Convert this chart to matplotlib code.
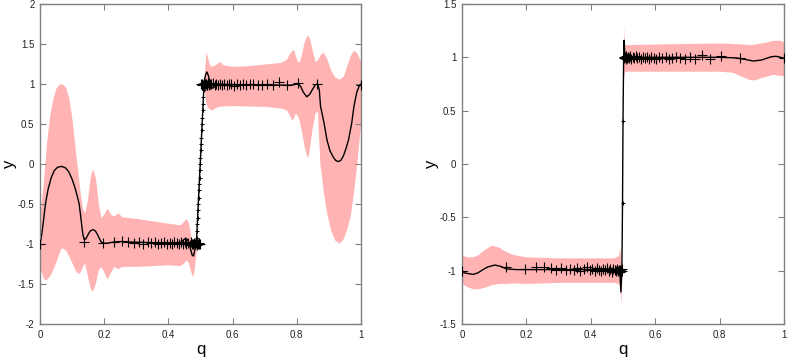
import numpy as np
import matplotlib
matplotlib.use("Agg")
import matplotlib.pyplot as plt

plt.rcParams['font.family'] = ['Liberation Sans', 'DejaVu Sans']
plt.rcParams['axes.unicode_minus'] = False

# ---------------- shared training data ----------------
data_q = [0.000, 0.138, 0.195, 0.230, 0.255, 0.275, 0.292, 0.308, 0.322, 0.335,
          0.347, 0.358, 0.368, 0.378, 0.387, 0.396, 0.404, 0.412, 0.419, 0.426,
          0.433, 0.439, 0.445, 0.451, 0.456, 0.461, 0.466, 0.470, 0.474, 0.478,
          0.481, 0.484, 0.487, 0.490, 0.492, 0.494, 0.496, 0.498,
          0.502, 0.504, 0.506, 0.508, 0.510, 0.513, 0.516, 0.519, 0.522, 0.526,
          0.530, 0.534, 0.539, 0.544, 0.549, 0.555, 0.561, 0.567, 0.574, 0.581,
          0.588, 0.596, 0.604, 0.613, 0.622, 0.632, 0.642, 0.653, 0.665, 0.678,
          0.692, 0.708, 0.725, 0.745, 0.770, 0.805, 0.862, 1.000]
data_y = [-1.000, -0.970, -0.985, -0.970, -0.965, -0.975, -0.990, -0.975, -0.995, -0.980,
          -0.990, -0.975, -1.000, -0.985, -0.970, -0.995, -0.985, -1.000, -0.975, -0.990,
          -1.005, -0.980, -0.995, -0.975, -1.000, -0.985, -1.010, -0.980, -0.995, -1.005,
          -0.985, -1.000, -0.990, -1.010, -0.995, -1.000, -0.985, -1.000,
          1.000, 0.990, 1.005, 0.985, 1.010, 0.995, 1.000, 0.990, 1.010, 0.985,
          1.000, 0.995, 1.010, 0.990, 1.000, 0.985, 1.005, 0.990, 1.000, 0.985,
          1.005, 0.995, 0.980, 1.000, 0.990, 1.005, 0.985, 0.995, 1.000, 0.990,
          0.985, 1.005, 0.985, 1.020, 0.985, 1.010, 0.995, 0.990]

# ---------------- left panel: GP mean ----------------
left_mean_q = [0.000, 0.004, 0.008, 0.012, 0.017, 0.025, 0.035, 0.045, 0.055, 0.068,
               0.080, 0.090, 0.100, 0.110, 0.116, 0.122, 0.127, 0.131, 0.134, 0.138,
               0.143, 0.150, 0.156, 0.162, 0.167, 0.173, 0.180, 0.186, 0.191, 0.196,
               0.210, 0.230, 0.255, 0.280, 0.320, 0.360, 0.400, 0.430, 0.440, 0.448,
               0.455, 0.462, 0.468, 0.474, 0.478, 0.482, 0.486]
left_mean_y = [-1.00, -0.92, -0.80, -0.67, -0.50, -0.32, -0.17, -0.08, -0.04, -0.03,
               -0.05, -0.10, -0.19, -0.31, -0.40, -0.50, -0.66, -0.80, -0.89, -0.945,
               -0.935, -0.88, -0.84, -0.825, -0.823, -0.84, -0.89, -0.94, -0.975, -0.99,
               -0.99, -0.975, -0.97, -0.975, -0.98, -0.985, -0.99, -0.99, -0.975, -0.945,
               -0.93, -0.96, -1.05, -1.14, -1.15, -1.08, -1.02]
# steep ramp (grid points of the prediction, visible as dots)
left_ramp_q = [0.487, 0.488, 0.489, 0.490, 0.491, 0.492, 0.493, 0.494, 0.495, 0.496,
               0.497, 0.498, 0.499, 0.500, 0.501, 0.502, 0.503, 0.504, 0.505, 0.506,
               0.507, 0.508, 0.509, 0.510, 0.511]
left_ramp_y = [-1.00, -0.92, -0.84, -0.75, -0.67, -0.58, -0.50, -0.42, -0.33, -0.25,
               -0.17, -0.08, 0.00, 0.08, 0.17, 0.25, 0.33, 0.42, 0.50, 0.58,
               0.67, 0.75, 0.84, 0.92, 1.00]
left_mean2_q = [0.513, 0.516, 0.520, 0.525, 0.530, 0.536, 0.542, 0.550, 0.600, 0.700,
                0.780, 0.805, 0.812, 0.820, 0.831, 0.840, 0.850, 0.858, 0.865, 0.870,
                0.874, 0.885, 0.894, 0.903, 0.913, 0.921, 0.929, 0.937, 0.945, 0.953,
                0.961, 0.971, 0.978, 0.987, 0.995, 1.000]
left_mean2_y = [1.06, 1.12, 1.15, 1.10, 1.00, 0.95, 0.96, 1.00, 0.99, 0.99,
                0.985, 1.00, 0.97, 0.90, 0.84, 0.87, 0.94, 0.99, 1.00, 0.93,
                0.72, 0.51, 0.30, 0.17, 0.09, 0.045, 0.03, 0.045, 0.10, 0.19,
                0.30, 0.51, 0.72, 0.90, 0.98, 1.00]

# ---------------- left panel: confidence band ----------------
left_band_q = [0.000, 0.010, 0.015, 0.020, 0.030, 0.040, 0.050, 0.060, 0.066, 0.070,
               0.080, 0.090, 0.100, 0.110, 0.118, 0.125, 0.132, 0.139, 0.148, 0.155,
               0.160, 0.165, 0.173, 0.182, 0.190, 0.200, 0.209, 0.220, 0.230, 0.243,
               0.255, 0.300, 0.350, 0.400, 0.436, 0.447, 0.455, 0.462, 0.470, 0.476,
               0.481, 0.486, 0.489, 0.511, 0.514, 0.517, 0.522, 0.528, 0.535, 0.545,
               0.555, 0.560, 0.570, 0.600, 0.650, 0.700, 0.750, 0.768, 0.776, 0.784,
               0.790, 0.795, 0.800, 0.805, 0.810, 0.815, 0.823, 0.831, 0.835, 0.840,
               0.848, 0.857, 0.864, 0.872, 0.882, 0.893, 0.905, 0.918, 0.932, 0.945,
               0.955, 0.966, 0.976, 0.987, 0.995, 1.000]
left_upper = [-0.62, -0.25, 0.00, 0.25, 0.60, 0.82, 0.95, 1.00, 1.00, 1.00,
              0.96, 0.82, 0.55, 0.18, -0.10, -0.35, -0.55, -0.61, -0.45, -0.20,
              -0.10, -0.07, -0.18, -0.50, -0.67, -0.62, -0.55, -0.63, -0.65, -0.61,
              -0.66, -0.68, -0.71, -0.74, -0.76, -0.72, -0.68, -0.73, -0.90, -0.95,
              -0.95, -0.96, -0.97, 1.03, 1.25, 1.40, 1.33, 1.24, 1.22, 1.24,
              1.27, 1.28, 1.24, 1.22, 1.23, 1.25, 1.27, 1.31, 1.37, 1.42,
              1.43, 1.36, 1.30, 1.27, 1.30, 1.38, 1.53, 1.60, 1.61, 1.57,
              1.42, 1.28, 1.30, 1.36, 1.40, 1.32, 1.18, 1.09, 1.06, 1.10,
              1.22, 1.35, 1.42, 1.39, 1.32, 1.27]
left_lower = [-1.30, -1.42, -1.45, -1.44, -1.40, -1.32, -1.22, -1.10, -1.05, -1.05,
              -1.08, -1.15, -1.24, -1.33, -1.37, -1.35, -1.28, -1.24, -1.40, -1.53,
              -1.58, -1.58, -1.48, -1.32, -1.28, -1.36, -1.44, -1.35, -1.28, -1.31,
              -1.28, -1.28, -1.27, -1.26, -1.27, -1.24, -1.20, -1.23, -1.35, -1.41,
              -1.30, -1.10, -1.03, 0.97, 0.85, 0.76, 0.71, 0.69, 0.675, 0.70,
              0.72, 0.72, 0.725, 0.73, 0.725, 0.72, 0.70, 0.675, 0.62, 0.55,
              0.58, 0.63, 0.62, 0.58, 0.50, 0.40, 0.22, 0.09, 0.10, 0.22,
              0.45, 0.64, 0.66, 0.01, -0.33, -0.61, -0.82, -0.95, -0.99, -0.93,
              -0.82, -0.66, -0.38, 0.01, 0.35, 0.55]

# ---------------- right panel ----------------
right_mean_q = [0.000, 0.015, 0.035, 0.050, 0.065, 0.080, 0.1025, 0.120, 0.139, 0.170,
                0.200, 0.300, 0.400, 0.480, 0.490, 0.4935, 0.4965, 0.4985, 0.5000, 0.5020,
                0.5035, 0.5060, 0.520, 0.600, 0.700, 0.750, 0.800, 0.850, 0.880, 0.905,
                0.930, 0.960, 0.975, 0.990, 1.000]
right_mean_y = [-1.015, -1.025, -1.035, -1.02, -0.99, -0.965, -0.947, -0.96, -0.984, -0.99,
                -0.99, -0.99, -0.99, -0.99, -1.00, -1.20, -1.00, -0.37, 0.40, 1.00,
                1.16, 1.00, 1.00, 1.00, 1.00, 1.00, 1.00, 0.995, 0.98, 0.965,
                0.975, 1.005, 1.01, 1.00, 0.99]
right_ramp_q = [0.4985, 0.5000]
right_ramp_y = [-0.37, 0.40]

right_band_q = [0.000, 0.015, 0.035, 0.050, 0.070, 0.092, 0.115, 0.135, 0.160, 0.200,
                0.300, 0.400, 0.470, 0.486, 0.490, 0.4935, 0.4965, 0.4985, 0.5000, 0.5015,
                0.5030, 0.5050, 0.520, 0.600, 0.700, 0.800, 0.840, 0.870, 0.894, 0.910,
                0.940, 0.965, 0.988, 1.000]
right_upper = [-0.855, -0.87, -0.87, -0.85, -0.80, -0.76, -0.78, -0.82, -0.85, -0.87,
               -0.88, -0.88, -0.88, -0.86, -0.78, -0.95, -0.94, -0.33, 0.45, 1.10,
               1.29, 1.12, 1.12, 1.125, 1.13, 1.135, 1.13, 1.125, 1.12, 1.125,
               1.14, 1.16, 1.16, 1.14]
right_lower = [-1.12, -1.15, -1.17, -1.17, -1.155, -1.13, -1.12, -1.12, -1.115, -1.12,
               -1.11, -1.11, -1.11, -1.12, -1.16, -1.31, -1.06, -0.41, 0.35, 0.80,
               0.84, 0.87, 0.87, 0.87, 0.87, 0.87, 0.86, 0.82, 0.79, 0.79,
               0.82, 0.84, 0.83, 0.83]

# ---------------- ticks ----------------
x_ticks = [0, 0.2, 0.4, 0.6, 0.8, 1.0]
x_ticklabels = ["0", "0.2", "0.4", "0.6", "0.8", "1"]
left_yticks = [-2, -1.5, -1, -0.5, 0, 0.5, 1, 1.5, 2]
left_yticklabels = ["-2", "-1.5", "-1", "-0.5", "0", "0.5", "1", "1.5", "2"]
right_yticks = [-1.5, -1, -0.5, 0, 0.5, 1, 1.5]
right_yticklabels = ["-1.5", "-1", "-0.5", "0", "0.5", "1", "1.5"]

BAND = '#ffb3b3'
FRAME = '#808080'

fig = plt.figure(figsize=(7.89, 3.62), dpi=100)
axL = fig.add_axes([40/789, 38/362, 321/789, 320/362])
axR = fig.add_axes([462/789, 38/362, 322/789, 320/362])


def style(ax, yticks, ylabels, ylim):
    ax.set_xlim(0, 1)
    ax.set_ylim(*ylim)
    ax.set_xticks(x_ticks)
    ax.set_xticklabels(x_ticklabels)
    ax.set_yticks(yticks)
    ax.set_yticklabels(ylabels)
    ax.tick_params(direction='in', top=True, right=True, length=4.5, width=0.8,
                   color=FRAME, labelsize=7, labelcolor='#222222', pad=4)
    for s in ax.spines.values():
        s.set_color(FRAME)
        s.set_linewidth(1.0)
    ax.set_xlabel('q', fontsize=12, va='center')
    ax.xaxis.set_label_coords(0.5, -0.08)
    ax.set_ylabel('y', fontsize=12, va='center')
    ax.yaxis.set_label_coords(-0.095, 0.5)


# left
axL.fill_between(left_band_q, left_lower, left_upper, color=BAND, lw=0, zorder=1)
lq = left_mean_q + left_ramp_q + left_mean2_q
ly = left_mean_y + left_ramp_y + left_mean2_y
axL.plot(lq, ly, color='black', lw=1.0, zorder=2)
axL.plot(left_ramp_q, left_ramp_y, ls='none', marker='+', ms=2.5, mew=0.7,
         color='black', zorder=3)
axL.plot(data_q, data_y, ls='none', marker='+', ms=7, mew=0.8, color='black', zorder=3)
style(axL, left_yticks, left_yticklabels, (-2, 2))

# right
axR.fill_between(right_band_q, right_lower, right_upper, color=BAND, lw=0, zorder=1)
axR.plot(right_mean_q, right_mean_y, color='black', lw=1.0, zorder=2)
axR.plot(right_ramp_q, right_ramp_y, ls='none', marker='+', ms=2.5, mew=0.7,
         color='black', zorder=3)
axR.plot(data_q, data_y, ls='none', marker='+', ms=7, mew=0.8, color='black', zorder=3)
style(axR, right_yticks, right_yticklabels, (-1.5, 1.5))

fig.savefig('out.png', dpi=100)
